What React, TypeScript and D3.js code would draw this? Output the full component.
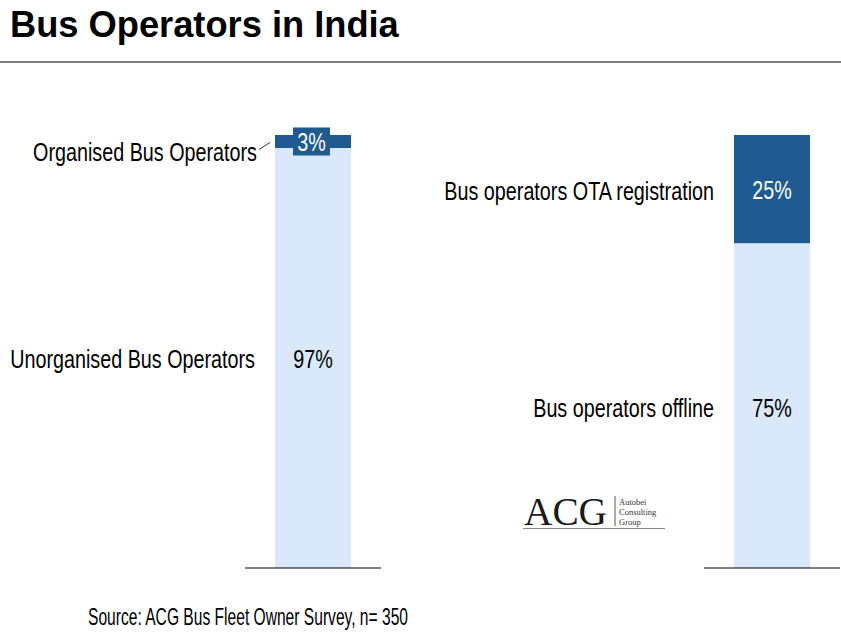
import React, { useEffect, useRef } from 'react';
import * as d3 from 'd3';

// two stacked 100% columns: market structure and OTA registration
const columns = ['structure', 'ota'];
const bottomLabels = ['Unorganised Bus Operators', 'Bus operators offline'];
const topLabels = ['Organised Bus Operators', 'Bus operators OTA registration'];
const bottomValues = [97, 75];
const topValues = [3, 25];

const FONT = "'Liberation Sans', Arial, sans-serif";
const SERIF = "'Liberation Serif', 'Times New Roman', serif";
const DARK = '#1f5a91';
const LIGHT = '#d9e8fa';

type G = d3.Selection<SVGGElement, unknown, null, undefined>;

// narrow text: regular glyphs squeezed horizontally around the anchor point
const narrowText = (
  parent: G,
  x: number,
  y: number,
  text: string,
  opts: { size: number; squeeze: number; anchor?: string; fill?: string; weight?: string }
) => {
  const g = parent.append('g')
    .attr('transform', `translate(${x},${y}) scale(${opts.squeeze},1)`);
  return g.append('text')
    .attr('x', 0).attr('y', 0)
    .attr('dy', '0.35em')
    .attr('text-anchor', opts.anchor || 'start')
    .attr('font-family', FONT)
    .attr('font-size', opts.size)
    .attr('font-weight', opts.weight || 'normal')
    .attr('fill', opts.fill || '#000')
    .text(text);
};

const App = () => {
  const svgRef = useRef<SVGSVGElement>(null);

  useEffect(() => {
    const width = 841;
    const height = 635;
    const svg = d3.select(svgRef.current)
      .attr('width', width)
      .attr('height', height)
      .style('background', '#ffffff');
    svg.selectAll('*').remove();
    const root = svg.append('g') as G;

    narrowText(root, 10, 24, 'Bus Operators in India', { size: 37, squeeze: 0.98, weight: 'bold' });

    root.append('line')
      .attr('x1', 0).attr('x2', width)
      .attr('y1', 62).attr('y2', 62)
      .attr('stroke', '#000').attr('stroke-width', 1.2);

    const x = d3.scalePoint<string>().domain(columns).range([313, 772]);
    const y = d3.scaleLinear().domain([0, 100]).range([568, 135]);
    const barW = 76;
    const labelSize = 26;
    const squeeze = 0.76;

    columns.forEach((c, i) => {
      const cx = x(c)!;
      const low = bottomValues[i];
      const high = topValues[i];
      const labelX = cx - barW / 2 - 20;

      root.append('rect')
        .attr('x', cx - barW / 2).attr('width', barW)
        .attr('y', y(low)).attr('height', y(0) - y(low))
        .attr('fill', LIGHT);
      root.append('rect')
        .attr('x', cx - barW / 2).attr('width', barW)
        .attr('y', y(low + high)).attr('height', y(low) - y(low + high))
        .attr('fill', DARK);

      // baseline
      root.append('line')
        .attr('x1', cx - 68).attr('x2', cx + 68)
        .attr('y1', y(0)).attr('y2', y(0))
        .attr('stroke', '#000').attr('stroke-width', 1.2);

      const lowMid = (y(0) + y(low)) / 2 + (i === 1 ? 2 : 1);
      narrowText(root, cx, lowMid, `${low}%`, { size: labelSize, squeeze, anchor: 'middle' });
      narrowText(root, labelX, lowMid, bottomLabels[i], { size: labelSize, squeeze, anchor: 'end' });

      const highMid = (y(low) + y(low + high)) / 2;
      if (high < 10) {
        // thin segment: value sits on a dark tag, name pulled out with a leader
        root.append('rect')
          .attr('x', cx - 20).attr('width', 37)
          .attr('y', highMid - 14).attr('height', 28)
          .attr('fill', DARK);
        narrowText(root, cx - 1.5, highMid + 0.5, `${high}%`, { size: labelSize, squeeze, anchor: 'middle', fill: '#fff' });
        root.append('line')
          .attr('x1', cx - barW / 2 - 16).attr('y1', highMid + 8)
          .attr('x2', cx - barW / 2 - 5).attr('y2', highMid + 1)
          .attr('stroke', '#000').attr('stroke-width', 0.8);
        narrowText(root, labelX + 2, highMid + 10, topLabels[i], { size: labelSize, squeeze, anchor: 'end' });
      } else {
        narrowText(root, cx, highMid + 1, `${high}%`, { size: labelSize, squeeze, anchor: 'middle', fill: '#fff' });
        narrowText(root, labelX, highMid + 2, topLabels[i], { size: labelSize, squeeze, anchor: 'end' });
      }
    });

    // ACG logo
    const logo = root.append('g').attr('transform', 'translate(523,0)');
    logo.append('text')
      .attr('x', 1).attr('y', 525)
      .attr('font-family', SERIF)
      .attr('font-size', 41)
      .attr('textLength', 83)
      .attr('lengthAdjust', 'spacingAndGlyphs')
      .attr('fill', '#1a1a1a')
      .text('ACG');
    logo.append('line')
      .attr('x1', 92).attr('x2', 92).attr('y1', 496).attr('y2', 526)
      .attr('stroke', '#555').attr('stroke-width', 1);
    ['Autobei', 'Consulting', 'Group'].forEach((t, k) => {
      logo.append('text')
        .attr('x', 96).attr('y', 505 + k * 10)
        .attr('font-family', SERIF)
        .attr('font-size', 8.5)
        .attr('fill', '#333')
        .text(t);
    });
    logo.append('line')
      .attr('x1', 0).attr('x2', 142).attr('y1', 528.5).attr('y2', 528.5)
      .attr('stroke', '#888').attr('stroke-width', 1);

    narrowText(root, 88, 617, 'Source: ACG Bus Fleet Owner Survey, n= 350', { size: 24, squeeze: 0.65 });
  }, []);

  return (
    <svg ref={svgRef} style={{ position: 'absolute', left: 0, top: 0 }}></svg>
  );
};

export default App;
